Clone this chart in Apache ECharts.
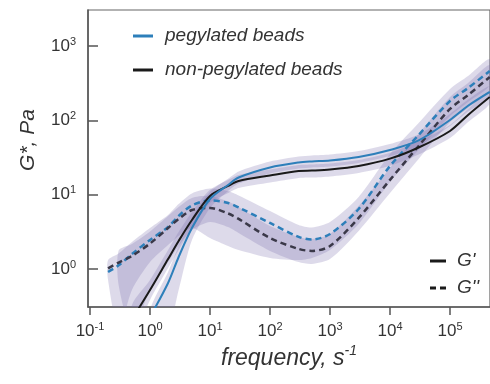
<!DOCTYPE html>
<html><head><meta charset="utf-8">
<script src="https://cdn.jsdelivr.net/npm/echarts@6/dist/echarts.min.js"></script>
<style>html,body{margin:0;padding:0;background:#fff}#c{width:490px;height:384px}</style>
</head><body><div id="c"></div>
<script>
// frequency grid, s^-1
const freq = [0.2, 0.3, 0.5, 1, 2, 3, 5, 10, 20, 30, 100, 300, 500, 1000, 3000, 1e4, 3e4, 1e5, 2e5, 4.6e5];

// G' (storage) and G'' (loss), Pa
const gStorePeg    = [null, null, null, 0.226, 0.648, 1.45, 3.56, 8.74, 13.5, 17.0, 23.2, 27.1, 28.0, 28.8, 32.1, 39.9, 53.6, 101, 157, 241];
const gStoreNonPeg = [null, null, 0.21, 0.52, 1.36, 2.38, 4.56, 9.6, 13.1, 15.3, 18.1, 20.8, 21.1, 21.8, 24.3, 30.5, 43.1, 71.9, 118, 206];
const gLossPeg     = [0.91, 1.12, 1.59, 2.46, 3.67, 5.17, 7.15, 8.35, 7.73, 6.72, 4.16, 2.70, 2.49, 2.96, 6.42, 24.3, 63.5, 182, 272, 461];
const gLossNonPeg  = [1.02, 1.22, 1.50, 2.20, 3.56, 4.71, 6.22, 6.62, 5.58, 4.71, 2.61, 1.86, 1.75, 2.04, 4.86, 15.8, 45.2, 142, 219, 383];

// uncertainty bands (upper / lower), Pa
const bandStorePegHi    = [null, null, null, 0.281, 0.911, 2.04, 4.86, 10.9, 16.3, 20.5, 27.9, 32.6, 33.7, 34.7, 38.7, 48.1, 64.5, 122, 190, 290];
const bandStorePegLo    = [null, null, null, 0.095, 0.151, 0.522, 2.46, 6.62, 11.2, 14.1, 19.3, 22.5, 23.2, 23.9, 26.7, 33.1, 44.5, 83.9, 131, 200];
const bandStoreNonPegHi = [null, null, 0.328, 0.711, 1.80, 3.15, 5.85, 11.6, 15.8, 18.4, 21.8, 25.1, 25.5, 26.3, 29.3, 36.7, 51.9, 86.6, 142, 248];
const bandStoreNonPegLo = [null, null, 0.111, 0.383, 1.03, 1.80, 3.56, 7.73, 10.5, 12.3, 14.6, 16.8, 17.0, 17.6, 19.6, 24.5, 34.7, 57.9, 95.0, 166];
const bandLossPegHi     = [1.32, 1.62, 2.31, 3.56, 5.33, 7.49, 10.4, 12.1, 11.2, 9.75, 6.03, 3.91, 3.62, 4.29, 9.30, 35.2, 92.1, 264, 395, 669];
const bandLossPegLo     = [0.711, 0.151, 0.522, 1.24, 2.10, 2.78, 3.56, 2.61, 2.04, 1.80, 1.41, 1.32, 1.41, 1.80, 4.03, 14.8, 39.9, 114, 177, 299];
const bandLossNonPegHi  = [null, 1.77, 2.17, 3.20, 5.17, 6.83, 9.02, 9.60, 8.09, 6.83, 3.79, 2.70, 2.53, 2.96, 7.04, 22.9, 65.5, 206, 318, 555];
const bandLossNonPegLo  = [null, 0.609, 0.151, 0.522, 1.24, 2.04, 3.35, 4.29, 3.67, 3.05, 1.75, 1.24, 1.17, 1.36, 3.25, 10.5, 30.2, 95.0, 147, 256];

// axis ticks
const xTicks = [0.1, 1, 10, 100, 1000, 1e4, 1e5];
const xTickExp = ['-1', '0', '1', '2', '3', '4', '5'];
const yTicks = [1, 10, 100, 1000];
const yTickExp = ['0', '1', '2', '3'];

const seriesNames = ['pegylated beads', 'non-pegylated beads'];
const modulusNames = ["G'", "G''"];

const FONT = "'Liberation Sans', Arial, sans-serif";
const BLUE = '#2d7fba';
const BLACK = '#1a1a1a';
const BAND = 'rgba(118,108,172,0.25)';

function pairs(ys) {
  const out = [];
  freq.forEach((f, i) => { if (ys[i] != null) out.push([f, ys[i]]); });
  return out;
}

function band(hi, lo) {
  return {
    type: 'custom', coordinateSystem: 'cartesian2d', silent: true, z: 1,
    data: [[freq[3], 1]], encode: { x: 0, y: 1 },
    renderItem(params, api) {
      const top = [], bot = [];
      freq.forEach((f, i) => {
        if (hi[i] != null && lo[i] != null) {
          top.push(api.coord([f, hi[i]]));
          bot.push(api.coord([f, lo[i]]));
        }
      });
      const cs = params.coordSys;
      return {
        type: 'polygon',
        shape: { points: top.concat(bot.reverse()), smooth: 0.25 },
        style: { fill: BAND },
        clipPath: { type: 'rect', shape: { x: cs.x, y: cs.y, width: cs.width, height: cs.height } }
      };
    }
  };
}

function line(name, ys, color, dashed, z) {
  return {
    type: 'line', name, data: pairs(ys), smooth: 0.3, symbol: 'none', z,
    lineStyle: { color, width: dashed ? 2.5 : 2, type: dashed ? [6, 4] : 'solid' },
    itemStyle: { color }, emphasis: { disabled: true }
  };
}

const chart = echarts.init(document.getElementById('c'), null, { renderer: 'canvas' });
chart.setOption({
  animation: false,
  backgroundColor: '#fff',
  textStyle: { fontFamily: FONT },
  grid: { left: 88, top: 10, right: 0, bottom: 77, show: true, borderColor: '#666', borderWidth: 1.2, backgroundColor: 'transparent' },
  legend: [
    {
      data: seriesNames.map(n => ({ name: n, icon: 'rect' })), orient: 'vertical', left: 128, top: 19, itemGap: 10,
      itemWidth: 20, itemHeight: 3, selectedMode: false,
      textStyle: { fontFamily: FONT, fontSize: 19, fontStyle: 'italic', color: '#333', lineHeight: 24, padding: [0, 0, 0, 7] }
    },
    {
      data: [
        { name: modulusNames[0], icon: 'rect' },
        { name: modulusNames[1], icon: 'path://M0,0h6v3h-6z M10,0h6v3h-6z' }
      ],
      orient: 'vertical', left: 425, top: 245, itemGap: 5,
      itemWidth: 16, itemHeight: 3, selectedMode: false,
      textStyle: { fontFamily: FONT, fontSize: 19, fontStyle: 'italic', color: '#333', lineHeight: 22, padding: [0, 0, 0, 6] }
    }
  ],
  xAxis: {
    type: 'log', logBase: 10, min: 0.0926, max: 464000,
    axisLine: { show: true, lineStyle: { color: '#555', width: 1.5 } },
    axisTick: { show: true, inside: false, length: 8, customValues: xTicks, lineStyle: { color: '#555', width: 1.5 } },
    minorTick: { show: false },
    splitLine: { show: false },
    axisLabel: {
      customValues: xTicks, margin: 14, color: '#333',
      formatter: v => { const i = xTicks.findIndex(t => Math.abs(Math.log10(t) - Math.log10(v)) < 1e-6); return '{b|10}{s|' + xTickExp[i] + '}'; },
      rich: {
        b: { fontFamily: FONT, fontSize: 17, lineHeight: 20, color: '#333' },
        s: { fontFamily: FONT, fontSize: 11, lineHeight: 11, verticalAlign: 'top', color: '#333' }
      }
    },
    name: '{t|frequency, s}{s|-1}', nameLocation: 'middle', nameGap: 33,
    nameTextStyle: {
      rich: {
        t: { fontFamily: FONT, fontSize: 23, fontStyle: 'italic', lineHeight: 28, color: '#333' },
        s: { fontFamily: FONT, fontSize: 14, fontStyle: 'italic', lineHeight: 14, verticalAlign: 'top', color: '#333' }
      }
    }
  },
  yAxis: {
    type: 'log', logBase: 10, min: 0.308, max: 3048,
    axisLine: { show: true, lineStyle: { color: '#555', width: 1.5 } },
    axisTick: { show: true, inside: true, length: 10, customValues: yTicks, lineStyle: { color: '#555', width: 1.5 } },
    minorTick: { show: false },
    splitLine: { show: false },
    axisLabel: {
      customValues: yTicks, margin: 12, color: '#333',
      formatter: v => { const i = yTicks.findIndex(t => Math.abs(Math.log10(t) - Math.log10(v)) < 1e-6); return '{b|10}{s|' + yTickExp[i] + '}'; },
      rich: {
        b: { fontFamily: FONT, fontSize: 17, lineHeight: 20, color: '#333' },
        s: { fontFamily: FONT, fontSize: 11, lineHeight: 11, verticalAlign: 'top', color: '#333' }
      }
    },
    name: 'G*, Pa', nameLocation: 'middle', nameGap: 46, nameRotate: 90,
    nameTextStyle: { fontFamily: FONT, fontSize: 21, fontStyle: 'italic', color: '#333', lineHeight: 24, padding: [0, 0, 0, 37] }
  },
  series: [
    band(bandLossPegHi, bandLossPegLo),
    band(bandLossNonPegHi, bandLossNonPegLo),
    band(bandStorePegHi, bandStorePegLo),
    band(bandStoreNonPegHi, bandStoreNonPegLo),
    line('pegylated G″', gLossPeg, BLUE, true, 3),
    line('non-pegylated G″', gLossNonPeg, '#3a3848', true, 3),
    line(seriesNames[1], gStoreNonPeg, BLACK, false, 4),
    line(seriesNames[0], gStorePeg, BLUE, false, 5),
    { type: 'line', name: modulusNames[0], data: [], symbol: 'none', lineStyle: { color: BLACK, width: 2.5 }, itemStyle: { color: BLACK } },
    { type: 'line', name: modulusNames[1], data: [], symbol: 'none', lineStyle: { color: BLACK, width: 2.5, type: [5, 4] }, itemStyle: { color: BLACK } }
  ]
});
</script>
</body></html>
